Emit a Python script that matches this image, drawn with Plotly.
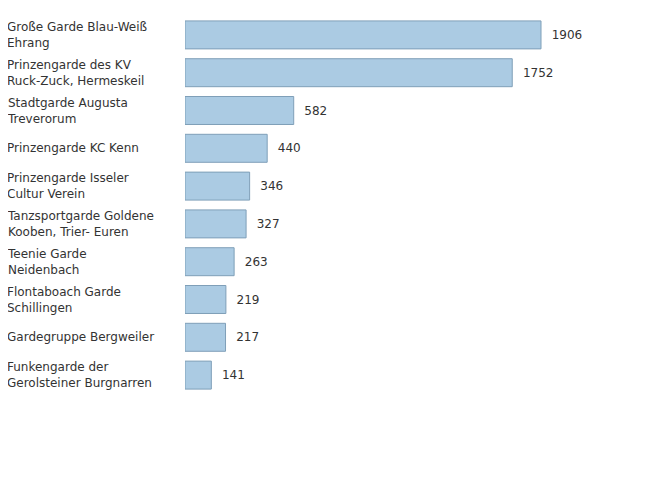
import plotly.graph_objects as go

labels = [
    "Große Garde Blau-Weiß<br>Ehrang",
    "Prinzengarde des KV<br>Ruck-Zuck, Hermeskeil",
    "Stadtgarde Augusta<br>Treverorum",
    "Prinzengarde KC Kenn",
    "Prinzengarde Isseler<br>Cultur Verein",
    "Tanzsportgarde Goldene<br>Kooben, Trier- Euren",
    "Teenie Garde<br>Neidenbach",
    "Flontaboach Garde<br>Schillingen",
    "Gardegruppe Bergweiler",
    "Funkengarde der<br>Gerolsteiner Burgnarren",
]
values = [1906, 1752, 582, 440, 346, 327, 263, 219, 217, 141]

W, H = 648, 500
# page renders ~8px offset, compensate
left, right, top, bottom = 177, 16, 8, 114
plot_w = W - left - right

fig = go.Figure(go.Bar(
    x=values, y=list(range(len(values))), orientation="h",
    marker=dict(color="#abcbe3", line=dict(color="#7f9fb8", width=1)),
    text=["  " + str(v) for v in values], textposition="outside",
    textfont=dict(size=12, color="#333333"), cliponaxis=False,
    width=0.74,
))

for i, lab in enumerate(labels):
    fig.add_annotation(text=lab, x=-(left + 3) / plot_w, xref="paper", y=i, yref="y",
                       xanchor="left", align="left", showarrow=False,
                       font=dict(size=12, color="#333333"))

fig.update_layout(
    width=W, height=H, margin=dict(l=left, r=right, t=top, b=bottom),
    plot_bgcolor="white", paper_bgcolor="white",
    font=dict(family="DejaVu Sans", size=12, color="#333333"),
    showlegend=False,
)
fig.update_xaxes(range=[0, plot_w / (356 / 1906)], visible=False)
fig.update_yaxes(range=[len(values) - 0.5, -0.5], visible=False)

fig.write_html("out.html")
